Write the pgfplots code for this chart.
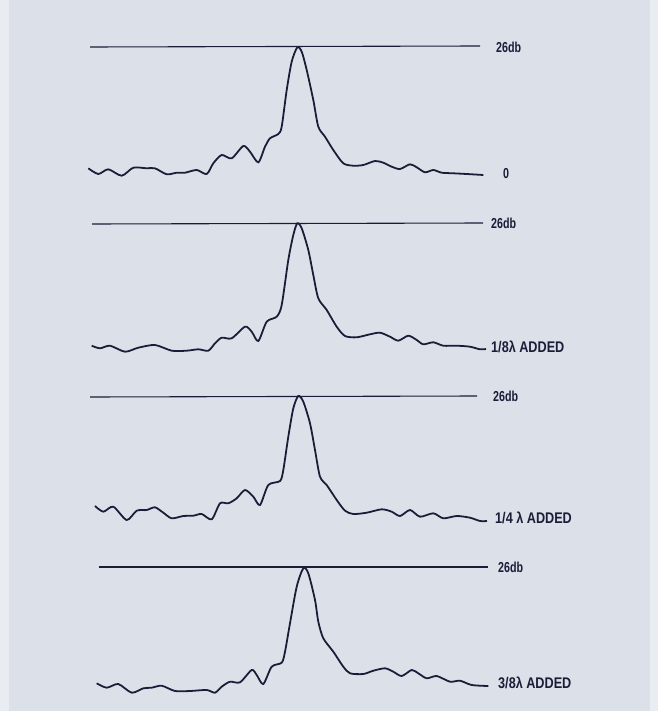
\documentclass[border=0pt]{standalone}
\usepackage{pgfplots}
\pgfplotsset{compat=1.18}
\usepackage{fontspec}
\setmainfont[FakeStretch=0.82]{Liberation Sans}
\newfontfamily\dbfont[FakeStretch=0.74]{Liberation Sans}
\definecolor{bg}{HTML}{DCE1E9}
\definecolor{bgl}{HTML}{E9ECF1}
\definecolor{ink}{HTML}{1C1C38}
\begin{document}
\begin{tikzpicture}
\begin{axis}[
  scale only axis, width=658bp, height=711bp,
  xmin=0, xmax=658, ymin=0, ymax=711, y dir=reverse,
  hide axis, clip=false,
]
% background
\addplot[fill=bg, draw=none] coordinates {(0,0) (658,0) (658,711) (0,711)} -- cycle;
\addplot[fill=bgl, draw=none] coordinates {(0,0) (9,0) (9,711) (0,711)} -- cycle;
\addplot[fill=bgl, draw=none] coordinates {(650,0) (658,0) (658,711) (650,711)} -- cycle;
% reference lines (26 dB)
\addplot[ink, line width=1.1pt] coordinates {(90,47) (480,46)};
\addplot[ink, line width=1.1pt] coordinates {(92,224) (483,223)};
\addplot[ink, line width=1.1pt] coordinates {(90,397) (477,396)};
\addplot[ink, line width=1.1pt] coordinates {(99,567) (488,567)};
% panel 1: 0
\addplot[ink, line width=1.8pt, smooth, tension=0.45] coordinates {
(88.3,168.3) (98.3,174) (108.3,169.3) (121.7,175.7) (133.3,167.7) (146.7,168.3)
(155,168.3) (166.7,174.3) (176.7,172.7) (185,172.7) (196.7,170) (206.7,174)
(213.3,163.3) (221.7,155) (231.7,158.3) (243.3,146) (250,151.7) (258.3,162.3)
(265,146.7) (270,138.3) (278.3,134) (281.7,126.7) (286.7,90) (291.7,61.7)
(297.3,47.3) (301.7,51.7) (306.7,70) (313.3,100) (318.3,126.7) (325,136.7)
(333.3,150) (343.3,163.3) (353.3,165.7) (363.3,165) (375,161) (383.3,162.7)
(391.7,166.7) (400,169) (410,164.3) (416.7,167.3) (425,172.3) (433.3,170)
(441.7,172.7) (453.3,173.3) (466.7,174) (483.3,175)};
% panel 2: 1/8 lambda
\addplot[ink, line width=1.8pt, smooth, tension=0.45] coordinates {
(91.7,345.7) (100,348.3) (110,345.7) (125,351.7) (138.3,347.7) (155,345)
(171.7,350.7) (186.7,350.7) (198.3,349.3) (208.3,350.7) (215,343.3) (221.7,337.7)
(231.7,338.3) (245,326.7) (251.7,331.7) (258.3,341) (266.7,321.7) (276.7,316.7)
(281.7,305) (288.3,260) (293.3,235) (297.3,223.3) (301.7,228.3) (308.3,250)
(313.3,275) (318.3,298.3) (326.7,310) (336.7,326.7) (345,336) (356.7,337.3)
(370,334.3) (380,332.7) (390,336.7) (398.3,340.7) (408.3,335.7) (416.7,340)
(423.3,344.3) (433.3,342.3) (443.3,345.7) (456.7,345.7) (470,346.7) (480,349.3) (486,349)};
% panel 3: 1/4 lambda
\addplot[ink, line width=1.8pt, smooth, tension=0.45] coordinates {
(95,506) (103.3,511.7) (113.3,506.7) (126.7,520) (136.7,510.7) (146.7,510)
(155,507.3) (163.3,512.7) (171.7,518.3) (183.3,516) (193.3,515.7) (201.7,514)
(211.7,519.3) (220,503.3) (228.3,503.3) (236.7,498.3) (245,490) (253.3,496.7)
(260,505) (268.3,485) (280,481) (283.3,470) (288.3,436.7) (293.3,408.3)
(298.3,396) (303.3,401.7) (310,423.3) (315,450) (320,476.7) (326.7,485)
(336.7,500) (345,510.7) (353.3,514) (366.7,512.7) (381.7,509.3) (391.7,511.7)
(400,516) (410,510) (420,516.7) (433.3,513.3) (443.3,518.3) (456.7,516)
(470,517.7) (480,521) (487,521)};
% panel 4: 3/8 lambda
\addplot[ink, line width=1.8pt, smooth, tension=0.45] coordinates {
(96.7,683.3) (106.7,687.7) (118.3,684) (131.7,692.7) (143.3,688.3) (151.7,687.7)
(161.7,685.7) (175,691) (190,691) (206.7,690) (215,692.7) (221.7,686.7)
(230,681.7) (240,682.3) (251.7,670) (256.7,675) (263.3,684) (271.7,666.7)
(281.7,662.7) (285,651.7) (290,623.3) (296.7,586.7) (303.3,568.3) (308.3,573.3)
(315,600) (318.3,621.7) (323.3,638.3) (333.3,651.7) (343.3,666.7) (350,673.3)
(363.3,674) (373.3,670.7) (385,668.3) (393.3,671.7) (401.7,676) (411.7,670)
(418.3,673.3) (426.7,678.3) (436.7,676) (450,681.7) (460,680.7) (471.7,685) (488.3,686)};
% labels
\tikzset{lab/.style={anchor=west, inner sep=0pt, text=ink, font=\fontsize{15.5}{16}\selectfont\bfseries},
         dbl/.style={anchor=west, inner sep=0pt, text=ink, font=\dbfont\fontsize{14.5}{15}\selectfont\bfseries}}
\node[dbl] at (axis cs:496,47) {26db};
\node[dbl] at (axis cs:503,174) {0};
\node[dbl] at (axis cs:491,223) {26db};
\node[lab] at (axis cs:491,347) {1/8λ ADDED};
\node[dbl] at (axis cs:493,396) {26db};
\node[lab] at (axis cs:495,518) {1/4 λ ADDED};
\node[dbl] at (axis cs:498,567) {26db};
\node[lab] at (axis cs:498,683) {3/8λ ADDED};
\end{axis}
\end{tikzpicture}
\end{document}
